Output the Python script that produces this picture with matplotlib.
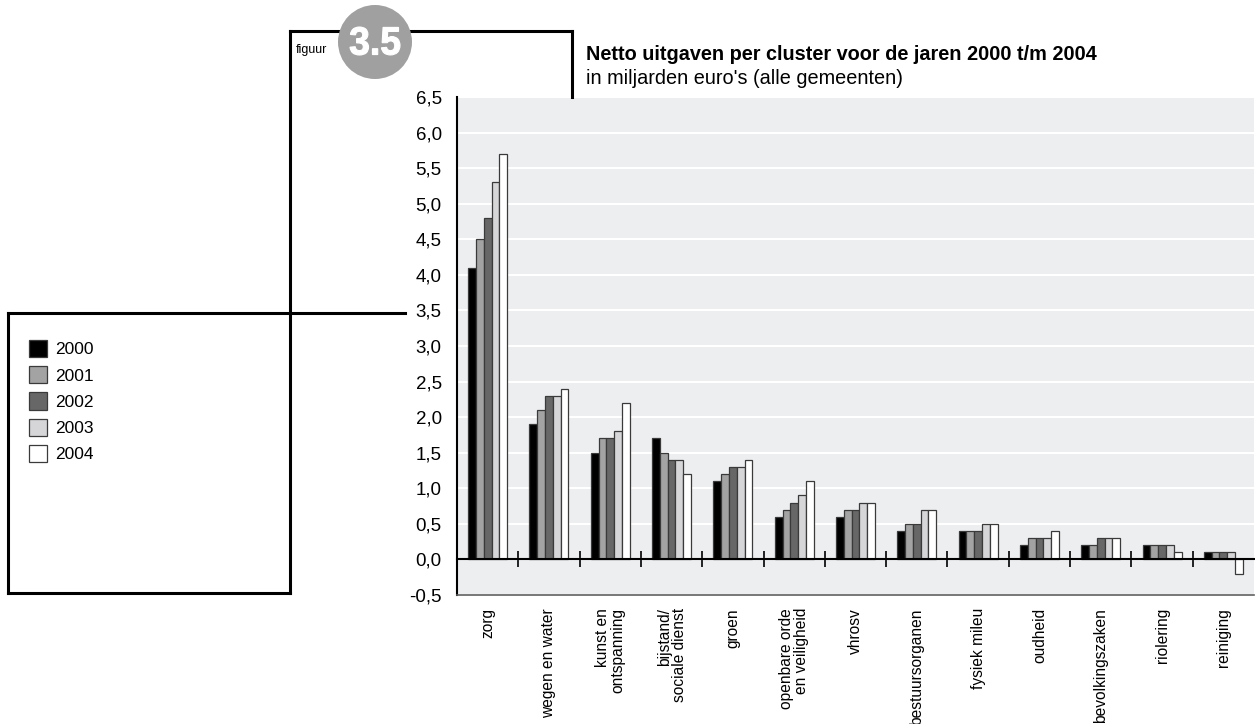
import matplotlib
matplotlib.use("Agg")
import matplotlib.pyplot as plt
import numpy as np
from matplotlib.lines import Line2D
from matplotlib.patches import Ellipse, Patch, PathPatch
from matplotlib.textpath import TextPath
from matplotlib.font_manager import FontProperties
from matplotlib.transforms import Affine2D
from matplotlib.ticker import FuncFormatter, MultipleLocator

plt.rcParams['font.family'] = ['Liberation Sans', 'DejaVu Sans']

# Net expenditure per cluster, billions of euros (all municipalities)
categories = ["zorg", "wegen en water", "kunst en\nontspanning", "bijstand/\nsociale dienst",
              "groen", "openbare orde\nen veiligheid", "vhrosv", "bestuursorganen",
              "fysiek mileu", "oudheid", "bevolkingszaken", "riolering", "reiniging"]
years = ["2000", "2001", "2002", "2003", "2004"]
v2000 = [4.1, 1.9, 1.5, 1.7, 1.1, 0.6, 0.6, 0.4, 0.4, 0.2, 0.2, 0.2, 0.1]
v2001 = [4.5, 2.1, 1.7, 1.5, 1.2, 0.7, 0.7, 0.5, 0.4, 0.3, 0.2, 0.2, 0.1]
v2002 = [4.8, 2.3, 1.7, 1.4, 1.3, 0.8, 0.7, 0.5, 0.4, 0.3, 0.3, 0.2, 0.1]
v2003 = [5.3, 2.3, 1.8, 1.4, 1.3, 0.9, 0.8, 0.7, 0.5, 0.3, 0.3, 0.2, 0.1]
v2004 = [5.7, 2.4, 2.2, 1.2, 1.4, 1.1, 0.8, 0.7, 0.5, 0.4, 0.3, 0.1, -0.2]
series = [v2000, v2001, v2002, v2003, v2004]
colors = ["#000000", "#a3a3a3", "#676767", "#d6d6d8", "#ffffff"]

W, H = 1255, 724
fig = plt.figure(figsize=(W / 100, H / 100), dpi=100)


def fx(px):
    return px / W


def fy(py):
    return 1 - py / H


# Decorative frame lines (figure pixel coordinates)
frame_lines = [
    ((290, 572), (31, 31)),
    ((572, 572), (31, 97)),
    ((290, 290), (31, 593)),
    ((8, 290), (593, 593)),
    ((8, 8), (313, 593)),
    ((8, 405), (313, 313)),
]
for xs, ys in frame_lines:
    fig.add_artist(Line2D([fx(x) for x in xs], [fy(y) for y in ys],
                          transform=fig.transFigure, color="black", lw=2.2,
                          solid_capstyle="projecting"))

# Figure number badge
fig.add_artist(Ellipse((fx(375), fy(42)), 74 / W, 74 / H, transform=fig.transFigure,
                       facecolor="#a0a0a0", edgecolor="none", zorder=5))
badge = TextPath((0, 0), "3.5", size=40,
                 prop=FontProperties(family="Liberation Sans", weight="bold"))
bb = badge.get_extents()
sx = 50 / bb.width
sy = 28 / bb.height
badge_tf = (Affine2D().translate(-bb.x0 - bb.width / 2, -bb.y0 - bb.height / 2)
            .scale(sx, sy).translate(375, H - 41))
fig.add_artist(PathPatch(badge_tf.transform_path(badge), facecolor="white",
                         edgecolor="white", lw=0.8, transform=None, zorder=6))
fig.text(fx(296), fy(50), "figuur", ha="left", va="center", fontsize=9)

# Titles
fig.text(fx(586), fy(55), "Netto uitgaven per cluster voor de jaren 2000 t/m 2004",
         ha="left", va="center", fontsize=14.3, fontweight="bold")
fig.text(fx(586), fy(79), "in miljarden euro's (alle gemeenten)",
         ha="left", va="center", fontsize=14.3)

# Plot area
ax = fig.add_axes([fx(457), fy(595), fx(1254 - 457), (595 - 97) / H])
ax.set_facecolor("#edeef0")
x = np.arange(len(categories))
w = 0.127
for j, (vals, c) in enumerate(zip(series, colors)):
    ax.bar(x + (j - 2) * w, vals, width=w, color=c, edgecolor="#3a3a3a",
           linewidth=0.9, zorder=3, label=years[j])

ax.set_xlim(-0.5, len(categories) - 0.5)
ax.set_ylim(-0.5, 6.5)
ax.yaxis.set_major_locator(MultipleLocator(0.5))
ax.yaxis.set_major_formatter(FuncFormatter(lambda v, p: f"{v:.1f}".replace(".", ",")))
ax.grid(axis="y", color="white", lw=1.5, zorder=0)
ax.set_axisbelow(True)
ax.tick_params(axis="y", length=0, pad=11, labelsize=13.5)

for s in ["top", "right"]:
    ax.spines[s].set_visible(False)
ax.spines["left"].set_linewidth(1.5)
ax.spines["bottom"].set_position(("data", 0))
ax.spines["bottom"].set_linewidth(1.5)
ax.spines["bottom"].set_zorder(4)
ax.axhline(-0.5, color="#606060", lw=1.2, clip_on=False, zorder=4)

ax.set_xticks(x)
ax.set_xticklabels(categories, rotation=90, va="top", ha="center",
                   multialignment="right", linespacing=1.0)
ax.set_xticks(np.arange(0.5, len(categories) - 1, 1.0), minor=True)
ax.tick_params(axis="x", which="major", length=0, pad=35, labelsize=11.2)
ax.tick_params(axis="x", which="minor", direction="inout", length=12, width=1.2)

# Legend in the left box
handles = [Patch(facecolor=c, edgecolor="#3a3a3a", linewidth=0.9) for c in colors]
fig.legend(handles, years, loc="upper left", bbox_to_anchor=(fx(29), fy(340)),
           frameon=False, fontsize=12.5, handlelength=1.05, handleheight=1.15,
           handletextpad=0.45, labelspacing=0.5, borderaxespad=0, borderpad=0)

fig.savefig("out.png", dpi=100)
